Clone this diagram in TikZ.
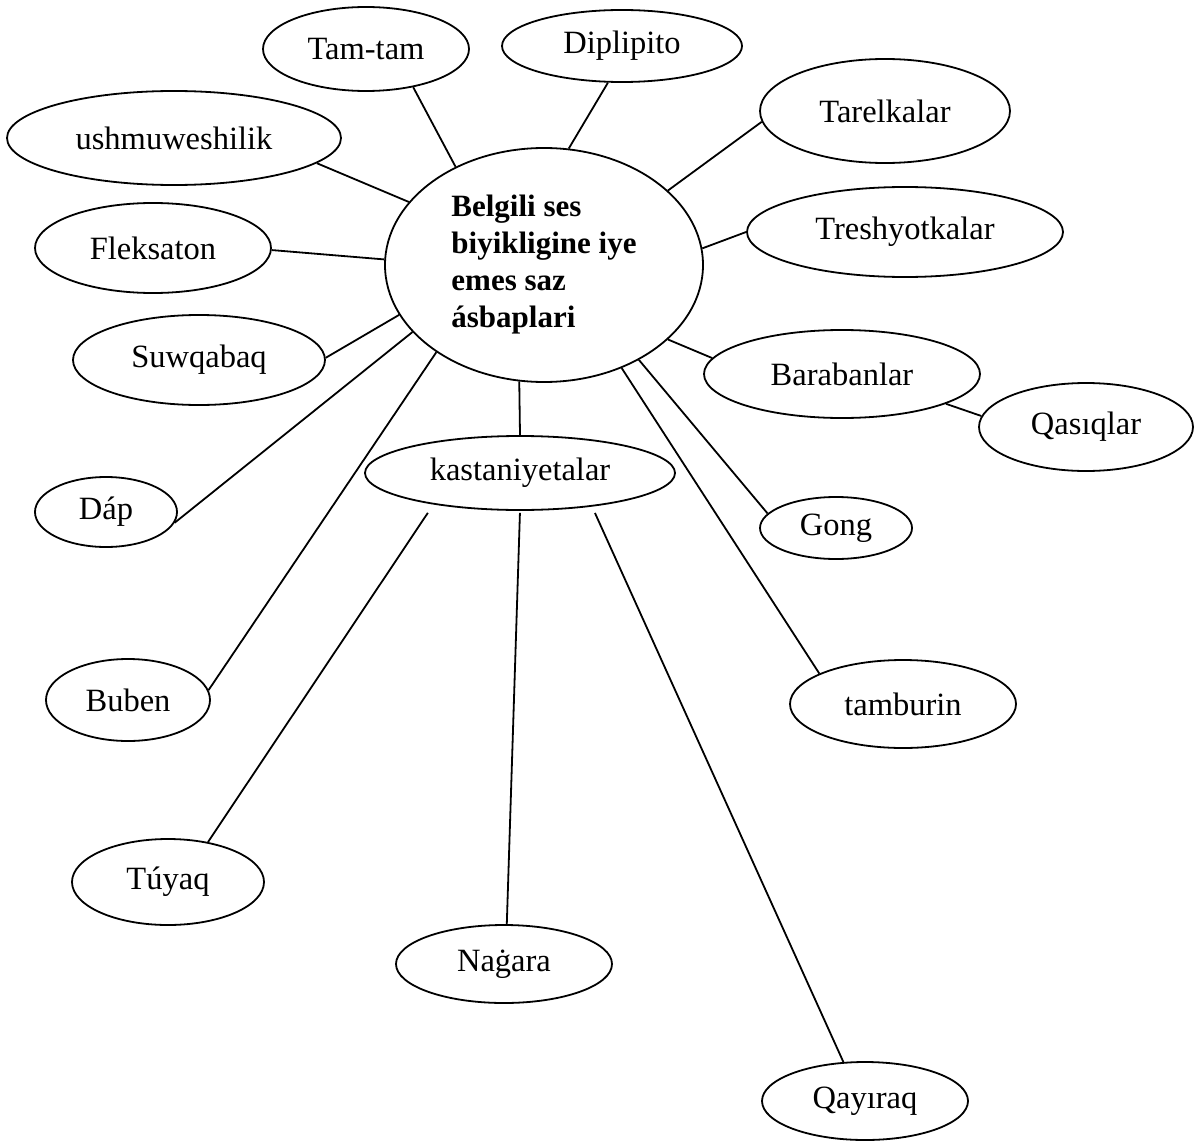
\documentclass[tikz,border=0pt]{standalone}
\usepackage{fontspec}
\setmainfont{Liberation Serif}
\usetikzlibrary{shapes.geometric}

\begin{document}
\begin{tikzpicture}[x=1pt,y=-1pt,
  saz/.style={draw,ellipse,line width=1.8pt,inner sep=0pt,
    font=\fontsize{32.5}{37}\selectfont},
  tie/.style={line width=1.8pt}]

\useasboundingbox (0,0) rectangle (1201,1142);

% middle
\node[saz,minimum width=318pt,minimum height=234pt,align=left,
  font=\fontsize{31}{37}\selectfont\bfseries] (big) at (544,265)
  {Belgili ses\\biyikligine iye\\emes saz\\ásbaplari};

% round the middle
\node[saz,minimum width=206pt,minimum height=84pt] (tamtam) at (366,49) {Tam-tam};
\node[saz,minimum width=240pt,minimum height=72pt] (diplip) at (622,46) {Diplipito};
\node[saz,minimum width=250pt,minimum height=104pt] (tarel) at (885,111) {Tarelkalar};
\node[saz,minimum width=316pt,minimum height=90pt] (treshy) at (905,232) {Treshyotkalar};
\node[saz,minimum width=334pt,minimum height=94pt] (ushmu) at (174,138) {ushmuweshilik};
\node[saz,minimum width=236pt,minimum height=90pt] (fleks) at (153,248) {Fleksaton};
\node[saz,minimum width=252pt,minimum height=90pt] (suwq) at (199,360) {Suwqabaq};
\node[saz,minimum width=276pt,minimum height=88pt] (barab) at (842,374) {Barabanlar};
\node[saz,minimum width=214pt,minimum height=88pt] (qasiq) at (1086,427) {Qasıqlar};
\node[saz,minimum width=310pt,minimum height=74pt] (kast) at (520,473) {kastaniyetalar};
\node[saz,minimum width=142pt,minimum height=70pt] (dap) at (106,512) {Dáp};
\node[saz,minimum width=152pt,minimum height=62pt] (gong) at (836,528) {Gong};
\node[saz,minimum width=164pt,minimum height=82pt] (buben) at (128,700) {Buben};
\node[saz,minimum width=226pt,minimum height=88pt] (tambur) at (903,704) {tamburin};
\node[saz,minimum width=192pt,minimum height=86pt] (tuyaq) at (168,882) {Túyaq};
\node[saz,minimum width=216pt,minimum height=78pt] (nagara) at (504,964) {Naġara};
\node[saz,minimum width=206pt,minimum height=78pt] (qayir) at (865,1101) {Qayıraq};

% connectors
\draw[tie] (big.132) -- (tamtam.-39);
\draw[tie] (big.78) -- (diplip.249);
\draw[tie] (big.31) -- (tarel.185);
\draw[tie] (big.6) -- (treshy.180);
\draw[tie] (big.155) -- (ushmu.-10);
\draw[tie] (big.178) -- (fleks.-1);
\draw[tie] (big.199) -- (suwq.1);
\draw[tie] (big.207) -- (dap.-9);
\draw[tie] (big.219) -- (buben.7);
\draw[tie] (big.258) -- (kast.north);
\draw[tie] (big.-31) -- (barab.173);
\draw[tie] (barab.-16) -- (qasiq.174);
\draw[tie] (big.-45) -- (gong.168);
\draw[tie] (big.-53) -- (tambur.160);

\draw[tie,shorten <=10pt] (kast.200) -- (tuyaq.45);
\draw[tie,shorten <=2pt] (kast.south) -- (nagara.86);
\draw[tie,shorten <=7pt] (kast.-25) -- (qayir.119);

\end{tikzpicture}
\end{document}
